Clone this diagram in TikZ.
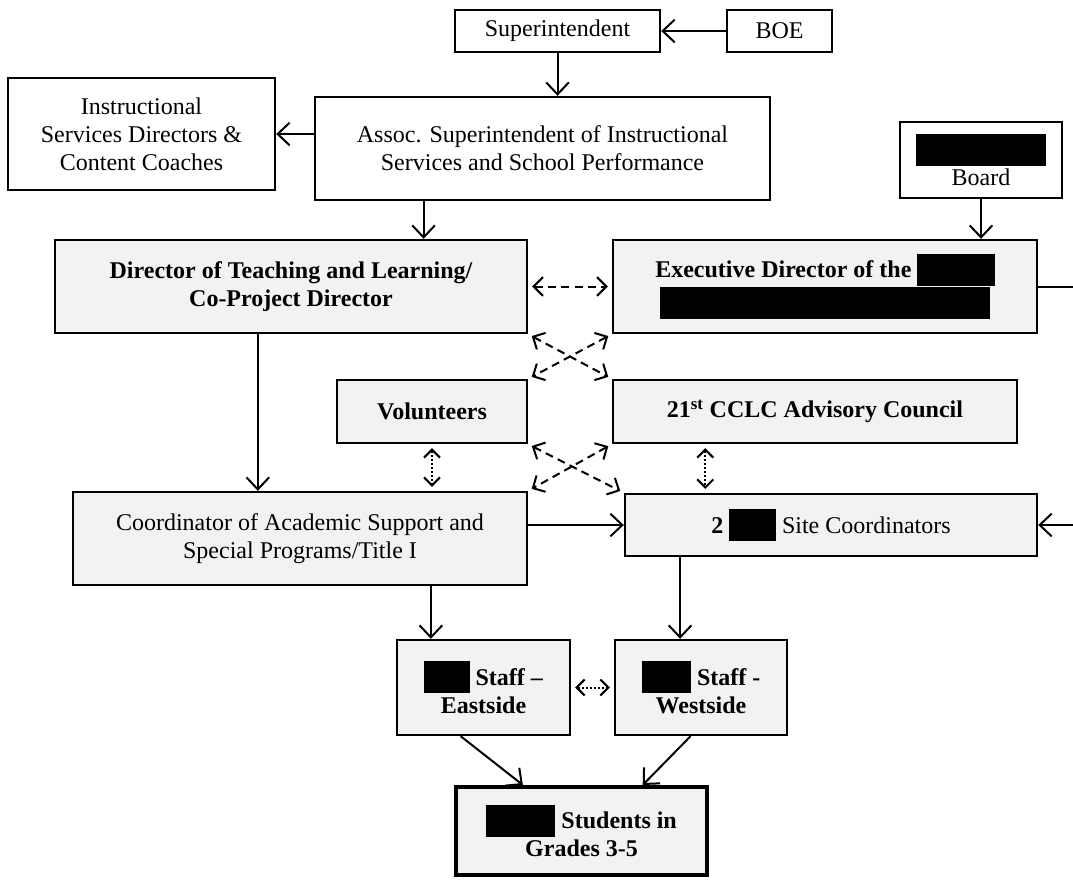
\documentclass[tikz,border=0pt]{standalone}
\usepackage{fontspec}
\setmainfont{Liberation Serif}
\usetikzlibrary{positioning,calc,arrows.meta}
\newcommand{\redact}[1]{\rule[-6pt]{#1}{24pt}}

\begin{document}
\begin{tikzpicture}[x=0.75pt,y=-0.75pt,
    box/.style={draw, line width=1.8pt, fill=white, align=center, inner sep=2pt,
      font=\fontsize{18}{21}\selectfont},
    shaded/.style={box, fill=gray!10, font=\fontsize{18}{21}\selectfont\bfseries},
    link/.style={line width=1.5pt, -{Straight Barb[length=9pt,width=17pt]}},
    dashboth/.style={line width=1.5pt, dash pattern=on 6pt off 4pt,
      {Straight Barb[length=7pt,width=14pt]}-{Straight Barb[length=7pt,width=14pt]},
      shorten <=3pt, shorten >=3pt},
    dotboth/.style={line width=1.5pt, dash pattern=on 1.5pt off 1.5pt,
      {Straight Barb[length=6pt,width=12pt]}-{Straight Barb[length=6pt,width=12pt]},
      shorten <=3pt, shorten >=3pt}]
  \useasboundingbox (0,0) rectangle (1073,879);
  \coordinate (edge) at (1073,0);

  \node [box, minimum width=153.75pt, minimum height=31.5pt] (supt) at (557.5,31) {Superintendent};
  \node [box, minimum width=78.75pt, minimum height=31.5pt] (boe) at (779.5,31) {BOE};
  \node [box, minimum width=341.25pt, minimum height=77.25pt] (assoc) at (542.5,148.5)
    {Assoc. Superintendent of Instructional\\Services and School Performance};
  \node [box, minimum width=200.25pt, minimum height=84pt] (instr) at (141.5,134)
    {Instructional\\Services Directors \&\\Content Coaches};
  \node [box, minimum width=121.5pt, minimum height=57pt] (board) at (981,160)
    {\redact{97pt}\\Board};

  \node [shaded, minimum width=354pt, minimum height=69.75pt] (dir) at (291,286.5)
    {Director of Teaching and Learning/\\Co-Project Director};
  \node [shaded, minimum width=318pt, minimum height=69.75pt] (exec) at (825,286.5)
    {Executive Director of the \redact{58pt}\\\redact{248pt}};
  \node [shaded, minimum width=142.5pt, minimum height=47.25pt] (vol) at (432,411.5) {Volunteers};
  \node [shaded, minimum width=303pt, minimum height=47.25pt] (cclc) at (815,411.5)
    {21\textsuperscript{st} CCLC Advisory Council};
  \node [shaded, font=\fontsize{18}{21}\selectfont, minimum width=340.5pt, minimum height=69.75pt] (coord) at (300,538.5)
    {Coordinator of Academic Support and\\Special Programs/Title I};
  \node [shaded, minimum width=309pt, minimum height=46.5pt] (site) at (831,525)
    {2 \redact{35pt} {\mdseries Site Coordinators}};
  \node [shaded, minimum width=129.75pt, minimum height=71.25pt] (east) at (483.5,687.5)
    {\redact{34pt} Staff --\\Eastside};
  \node [shaded, minimum width=129pt, minimum height=71.25pt] (west) at (701,687.5)
    {\redact{37pt} Staff -\\Westside};
  \node [shaded, line width=3pt, minimum width=188.25pt, minimum height=66pt] (stud) at (581.5,831)
    {\redact{52pt} Students in\\Grades 3-5};

  \coordinate (a1) at ($(assoc.south west)!0.24!(assoc.south east)$);
  \coordinate (d1) at ($(dir.south west)!0.43!(dir.south east)$);
  \coordinate (c1) at ($(cclc.south west)!0.23!(cclc.south east)$);
  \coordinate (e1) at ($(east.north west)!0.2!(east.north east)$);
  \coordinate (w1) at ($(west.north west)!0.38!(west.north east)$);

  \draw [link] (boe) -- (supt);
  \draw [link] (supt) -- (supt |- assoc.north);
  \draw [link] (assoc.west |- instr.east) -- (instr.east);
  \draw [link] (a1) -- (a1 |- dir.north);
  \draw [link] (board) -- (board |- exec.north);
  \draw [line width=1.5pt] (exec.east) -- (exec.east -| edge);
  \draw [dashboth] (dir) -- (exec);
  \draw [dashboth] (dir.south east) -- (cclc.north west);
  \draw [dashboth] (exec.south west) -- (vol.north east);
  \draw [dashboth] (vol.south east) -- (site.north west);
  \draw [dashboth] (cclc.south west) -- (coord.north east);
  \draw [dotboth] (vol) -- (vol |- coord.north);
  \draw [dotboth] (c1) -- (c1 |- site.north);
  \draw [link] (d1) -- (d1 |- coord.north);
  \draw [link] (coord.east |- site.west) -- (site.west);
  \draw [link] (site.east -| edge) -- (site.east);
  \draw [link] (e1 |- coord.south) -- (e1);
  \draw [link] (w1 |- site.south) -- (w1);
  \draw [dotboth] (east) -- (west);
  \draw [link] ($(east.south west)!0.37!(east.south east)$) -- ($(stud.north west)!0.27!(stud.north east)$);
  \draw [link] ($(west.south west)!0.44!(west.south east)$) -- ($(stud.north west)!0.74!(stud.north east)$);
\end{tikzpicture}
\end{document}
